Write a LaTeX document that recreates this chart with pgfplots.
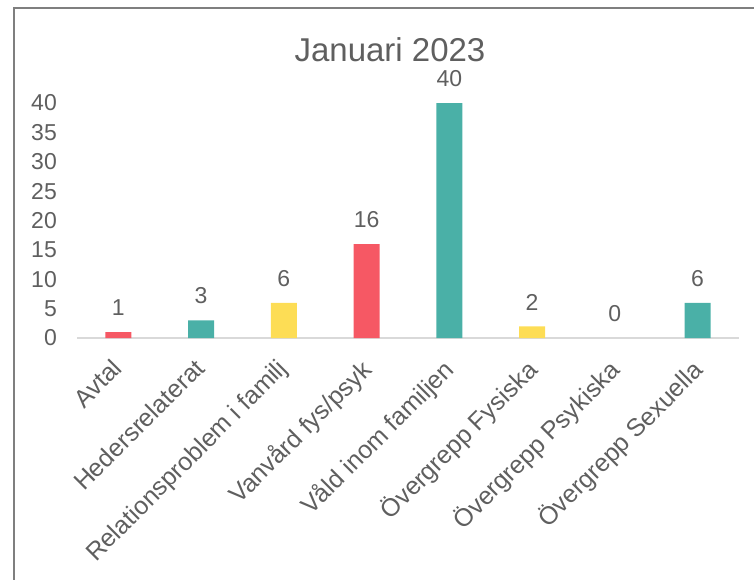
\documentclass[border=0pt]{standalone}
\usepackage{pgfplots}
\pgfplotsset{compat=1.18}
\usepackage{fontspec}
\setmainfont{Liberation Sans}
\definecolor{cred}{HTML}{F65864}
\definecolor{cteal}{HTML}{4AB0A7}
\definecolor{cyellow}{HTML}{FDDD55}
\definecolor{ctext}{HTML}{5F5F5F}
\definecolor{cframe}{HTML}{7F7F7F}
\definecolor{cbase}{HTML}{D9D9D9}
\begin{document}
\begin{tikzpicture}
\useasboundingbox (0,0) rectangle (754pt,579pt);
\draw[cframe, line width=1.5pt] (14pt,-2pt) -- (14pt,571pt) -- (756pt,571pt);
\node[text=ctext, font=\fontsize{33}{39}\selectfont, inner sep=0pt] at (390pt,529pt) {Januari 2023};
\begin{axis}[
  at={(77pt,241pt)}, anchor=south west,
  scale only axis, width=662pt, height=235pt,
  xmin=-0.5, xmax=7.5, ymin=0, ymax=40,
  ybar, bar width=26pt, bar shift=0pt,
  axis line style={draw=none},
  major tick length=0pt,
  clip=false,
  ytick={0,5,...,40},
  xtick={0,...,7},
  xticklabels={Avtal,Hedersrelaterat,Relationsproblem i familj,Vanvård fys/psyk,Våld inom familjen,Övergrepp Fysiska,Övergrepp Psykiska,Övergrepp Sexuella},
  /pgf/number format/assume math mode=true,
  yticklabel style={font=\fontsize{23}{27}\selectfont, text=ctext, anchor=east, inner sep=0pt, xshift=-20pt},
  xticklabel style={font=\fontsize{25}{29}\selectfont, text=ctext, xshift=-8pt, yshift=-19pt, rotate=45, anchor=north east, inner sep=0pt},
  nodes near coords,
  every node near coord/.append style={font=\fontsize{23}{27}\selectfont, text=ctext, anchor=south, inner sep=0pt, yshift=16pt},
]
\draw[cbase, line width=1.5pt] (axis cs:-0.5,0) -- (axis cs:7.5,0);
\addplot[fill=cred, draw=none] coordinates {(0,1) (3,16)};
\addplot[fill=cteal, draw=none] coordinates {(1,3) (4,40) (7,6)};
\addplot[fill=cyellow, draw=none] coordinates {(2,6) (5,2)};
\addplot[fill=none, draw=none] coordinates {(6,0)};
\end{axis}
\end{tikzpicture}
\end{document}
